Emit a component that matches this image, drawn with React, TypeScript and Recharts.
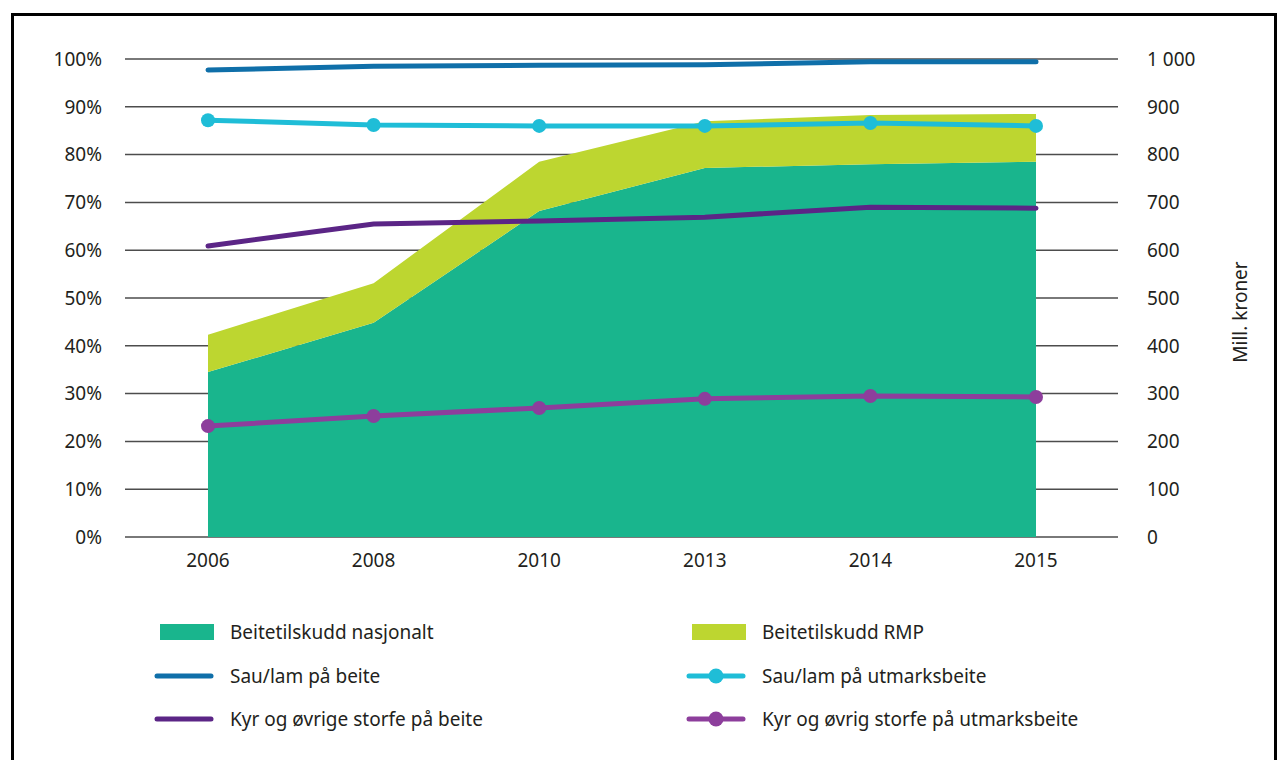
import React from 'react';
import { ComposedChart, Area, Line, XAxis, YAxis, CartesianGrid } from 'recharts';

const years = ['2006', '2008', '2010', '2013', '2014', '2015'];
const nasjonalt = [345, 448, 682, 772, 780, 785];
const rmp = [78, 83, 103, 98, 103, 100];
const sauBeite = [97.7, 98.5, 98.7, 98.8, 99.4, 99.4];
const sauUtmark = [87.2, 86.2, 86.0, 86.0, 86.6, 86.0];
const kyrBeite = [60.9, 65.5, 66.1, 66.9, 69.0, 68.8];
const kyrUtmark = [23.2, 25.3, 27.0, 28.9, 29.5, 29.3];

const leftTicks = [0, 10, 20, 30, 40, 50, 60, 70, 80, 90, 100];
const rightTicks = [0, 100, 200, 300, 400, 500, 600, 700, 800, 900, 1000];

const C_NAS = '#19b58d';
const C_RMP = '#bdd630';
const C_SAU = '#0f6fa9';
const C_SAUU = '#1fbdd7';
const C_KYR = '#5b2586';
const C_KYRU = '#8d3e9c';

const FONT = '"Noto Sans", sans-serif';

const data = years.map((y, i) => ({
  year: y,
  nasjonalt: nasjonalt[i],
  rmp: rmp[i],
  sauBeite: sauBeite[i],
  sauUtmark: sauUtmark[i],
  kyrBeite: kyrBeite[i],
  kyrUtmark: kyrUtmark[i],
}));

const tickStyle = { fill: '#231f20', fontSize: 19, fontFamily: FONT };

const fmtRight = (v: number) => (v >= 1000 ? String(v).replace(/(\d)(\d{3})$/, '$1 $2') : String(v));

const RightLabel = (props: any) => {
  const vb = props.viewBox || {};
  const cx = vb.x + 122;
  const cy = 312;
  return (
    <text x={cx} y={cy} transform={`rotate(-90 ${cx} ${cy})`} textAnchor="middle" dominantBaseline="central"
      style={{ fontSize: 19, fontFamily: FONT, fill: '#231f20' }}>
      Mill. kroner
    </text>
  );
};

type LegendItem = { label: string; kind: 'rect' | 'line' | 'dotline'; color: string; x: number; y: number };
const legendItems: LegendItem[] = [
  { label: 'Beitetilskudd nasjonalt', kind: 'rect', color: C_NAS, x: 157, y: 632 },
  { label: 'Beitetilskudd RMP', kind: 'rect', color: C_RMP, x: 689, y: 632 },
  { label: 'Sau/lam på beite', kind: 'line', color: C_SAU, x: 157, y: 676 },
  { label: 'Sau/lam på utmarksbeite', kind: 'dotline', color: C_SAUU, x: 689, y: 676 },
  { label: 'Kyr og øvrige storfe på beite', kind: 'line', color: C_KYR, x: 157, y: 719 },
  { label: 'Kyr og øvrig storfe på utmarksbeite', kind: 'dotline', color: C_KYRU, x: 689, y: 719 },
];

const LegendIcon = ({ item }: { item: LegendItem }) => (
  <svg width={60} height={20} style={{ display: 'block' }}>
    {item.kind === 'rect' && <rect x={6} y={2} width={54} height={16} fill={item.color} />}
    {item.kind !== 'rect' && (
      <line x1={3} y1={10} x2={57} y2={10} stroke={item.color} strokeWidth={5} strokeLinecap="round" />
    )}
    {item.kind === 'dotline' && <circle cx={30} cy={10} r={7.5} fill={item.color} />}
  </svg>
);

export default function App() {
  return (
    <div style={{ position: 'absolute', left: 0, top: 0, width: 1277, height: 760, background: '#fff', overflow: 'hidden' }}>
      <div style={{ position: 'absolute', left: 11, top: 13, width: 1260, height: 760, borderTop: '3px solid #000', borderLeft: '3px solid #000', borderRight: '3px solid #000' }} />
      <div style={{ position: 'absolute', left: 0, top: 0 }}>
        <ComposedChart width={1277} height={600} data={data} margin={{ top: 59, right: 0, bottom: 0, left: 0 }}>
          <CartesianGrid yAxisId="left" vertical={false} stroke="#4d4d4d" strokeWidth={1.5} />
          <XAxis dataKey="year" type="category" height={63} axisLine={false} tickLine={false} tickSize={0}
            tickMargin={17} padding={{ left: 83, right: 82 }} tick={tickStyle} interval={0} />
          <YAxis yAxisId="left" orientation="left" width={125} domain={[0, 100]} ticks={leftTicks}
            axisLine={false} tickLine={false} tickSize={0} tickMargin={23} tick={tickStyle}
            tickFormatter={(v: number) => `${v}%`} />
          <YAxis yAxisId="right" orientation="right" width={159} domain={[0, 1000]} ticks={rightTicks}
            axisLine={false} tickLine={false} tickSize={0} tickMargin={29} tick={tickStyle}
            tickFormatter={fmtRight} label={<RightLabel />} />
          <Area yAxisId="right" type="linear" dataKey="nasjonalt" stackId="a" stroke="none" fill={C_NAS}
            fillOpacity={1} isAnimationActive={false} dot={false} activeDot={false} />
          <Area yAxisId="right" type="linear" dataKey="rmp" stackId="a" stroke="none" fill={C_RMP}
            fillOpacity={1} isAnimationActive={false} dot={false} activeDot={false} />
          <Line yAxisId="left" type="linear" dataKey="sauBeite" stroke={C_SAU} strokeWidth={5}
            strokeLinecap="round" dot={false} activeDot={false} isAnimationActive={false} />
          <Line yAxisId="left" type="linear" dataKey="kyrBeite" stroke={C_KYR} strokeWidth={5}
            strokeLinecap="round" dot={false} activeDot={false} isAnimationActive={false} />
          <Line yAxisId="left" type="linear" dataKey="sauUtmark" stroke={C_SAUU} strokeWidth={5}
            dot={{ r: 7, fill: C_SAUU, stroke: 'none' }} activeDot={false} isAnimationActive={false} />
          <Line yAxisId="left" type="linear" dataKey="kyrUtmark" stroke={C_KYRU} strokeWidth={5}
            dot={{ r: 7, fill: C_KYRU, stroke: 'none' }} activeDot={false} isAnimationActive={false} />
        </ComposedChart>
      </div>
      {legendItems.map((it) => (
        <div key={it.label} style={{ position: 'absolute', left: it.x - 3, top: it.y - 10, display: 'flex', alignItems: 'center', height: 20 }}>
          <LegendIcon item={it} />
          <span style={{ marginLeft: 16, fontFamily: FONT, fontSize: 19, color: '#231f20', whiteSpace: 'nowrap', lineHeight: '20px' }}>
            {it.label}
          </span>
        </div>
      ))}
    </div>
  );
}
